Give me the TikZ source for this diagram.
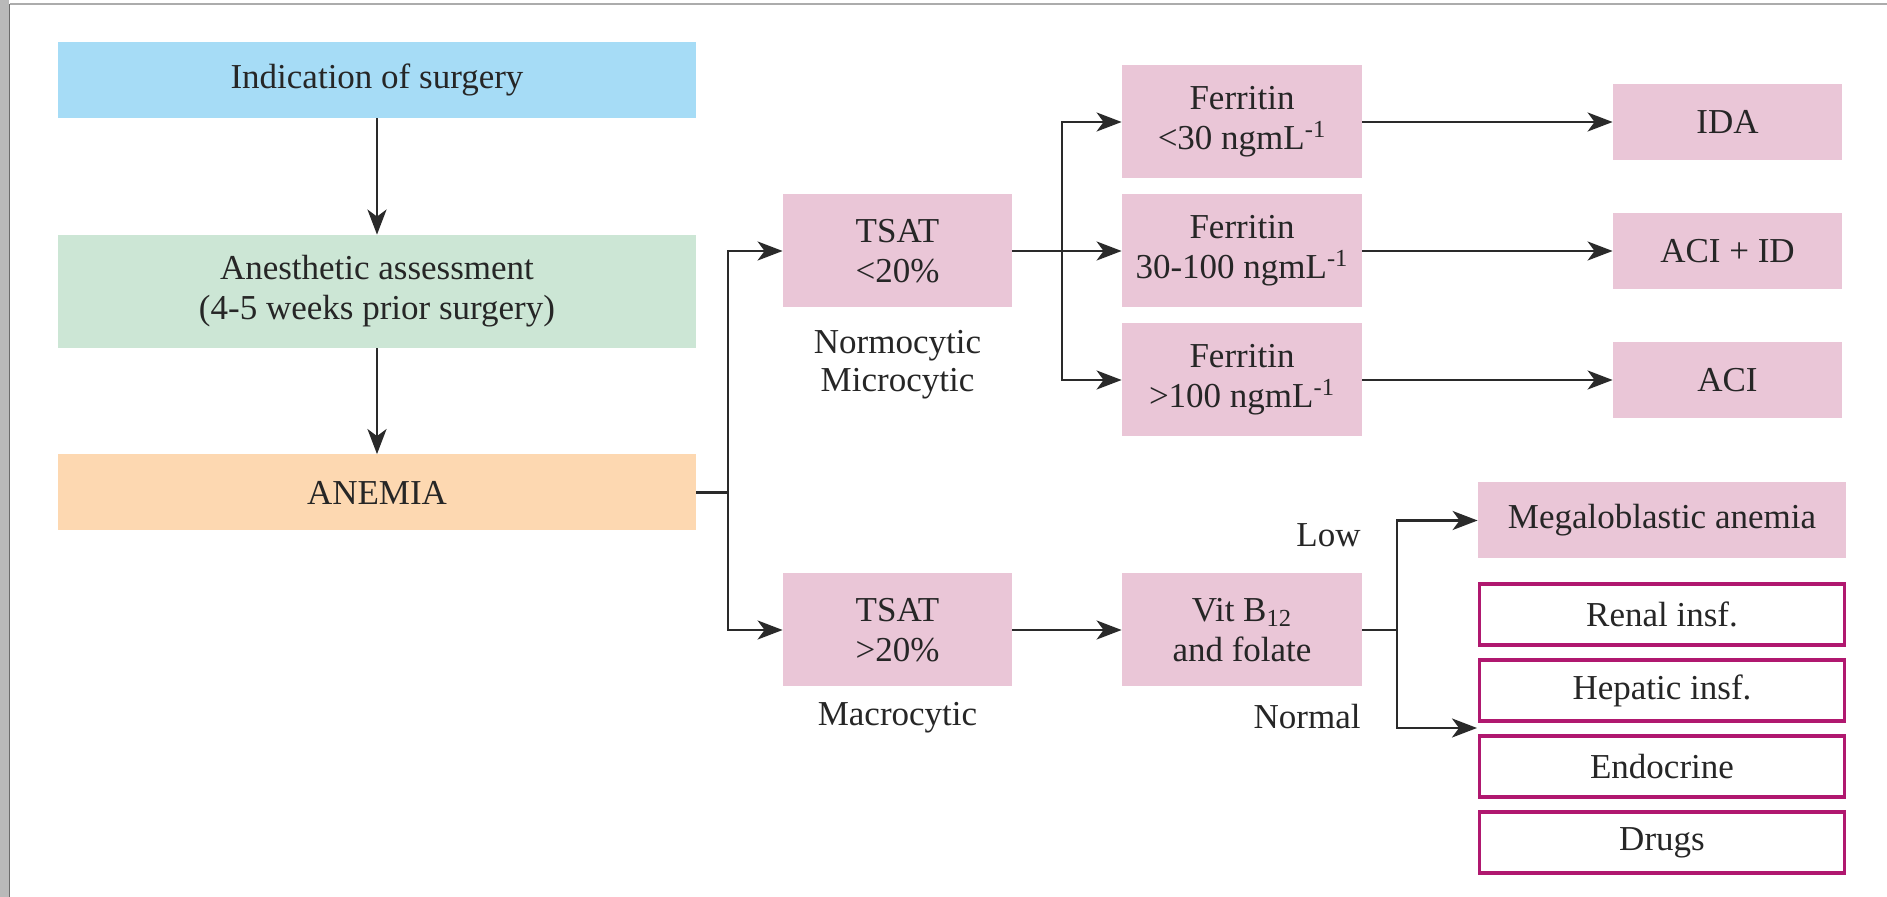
\documentclass[tikz,border=0pt]{standalone}
\usepackage{fontspec}
\setmainfont{Liberation Serif}
\usetikzlibrary{arrows.meta}

\definecolor{txt}{HTML}{262626}
\definecolor{lineclr}{HTML}{2A2A2A}
\definecolor{blueA}{HTML}{A6DCF6}
\definecolor{greenA}{HTML}{CCE6D5}
\definecolor{peachA}{HTML}{FDD8B1}
\definecolor{pinkA}{HTML}{EAC6D7}
\definecolor{magA}{HTML}{B0186F}

\tikzset{
  x=0.5pt, y=-0.5pt,
  box/.style={inner sep=0pt, align=center, text=txt,
              font=\fontsize{17.5}{20}\selectfont},
  lbl/.style={inner sep=0pt, align=center, text=txt,
              font=\fontsize{17.5}{19}\selectfont},
  pinkbox/.style={box, fill=pinkA},
  outbox/.style={box, draw=magA, line width=1.7pt, fill=white},
  wide/.style={minimum width=319pt},
  midw/.style={minimum width=114.5pt},
  ferw/.style={minimum width=120pt},
  resw/.style={minimum width=184pt},
  tallh/.style={minimum height=56.5pt},
  shorth/.style={minimum height=38pt},
  thinh/.style={minimum height=30.5pt},
  arr/.style={draw=lineclr, line width=1.3pt,
              -{Stealth[length=12.5pt, width=9.5pt, inset=3.5pt]}},
  ln/.style={draw=lineclr, line width=1.3pt},
}

\begin{document}
\begin{tikzpicture}
\useasboundingbox (0,0) rectangle (1887,897);
\fill[white] (0,0) rectangle (1887,897);

% page frame: grey left margin and thin top rule
\fill[gray!55] (0,0) rectangle (9,897);
\draw[gray!85!black, line width=0.7pt] (9.5,4) -- (9.5,897);
\draw[gray!65, line width=1pt] (9.5,4.5) -- (1887,4.5);

% left column
\node[box, wide, shorth, fill=blueA] (ind) at (377,80) {Indication of surgery};
\node[box, wide, tallh, fill=greenA] (anes) at (377,291.5)
  {Anesthetic assessment\\(4-5 weeks prior surgery)};
\node[box, wide, shorth, fill=peachA] (anemia) at (377,492.5) {ANEMIA};

% TSAT split
\node[pinkbox, midw, tallh] (tsat1) at (897.5,251) {TSAT\\<20\%};
\node[lbl] (normo) at (897.5,365) {Normocytic\\Microcytic};
\node[pinkbox, midw, tallh] (tsat2) at (897.5,630) {TSAT\\>20\%};
\node[lbl] (macro) at (897.5,718) {Macrocytic};

% ferritin levels
\node[pinkbox, ferw, tallh] (fer1) at (1242,122) {Ferritin\\<30 ngmL\textsuperscript{-1}};
\node[pinkbox, ferw, tallh] (fer2) at (1242,251) {Ferritin\\30-100 ngmL\textsuperscript{-1}};
\node[pinkbox, ferw, tallh] (fer3) at (1242,380) {Ferritin\\>100 ngmL\textsuperscript{-1}};

% diagnoses
\node[pinkbox, midw, shorth] (ida)   at (1727.5,122) {IDA};
\node[pinkbox, midw, shorth] (aciid) at (1727.5,251) {ACI + ID};
\node[pinkbox, midw, shorth] (aci)   at (1727.5,380) {ACI};

% vitamin branch
\node[pinkbox, ferw, tallh] (vit) at (1242,630) {Vit B\textsubscript{12}\\and folate};
\node[lbl, anchor=east] (low) at (1361,535) {Low};
\node[lbl, anchor=east] (normal) at (1361,717) {Normal};
\node[pinkbox, resw, shorth] (mega) at (1662,520.5) {Megaloblastic anemia};
\node[outbox, minimum width=182.5pt, thinh] (renal)   at (1662,614.5) {Renal insf.};
\node[outbox, minimum width=182.5pt, thinh] (hepatic) at (1662,690.5) {Hepatic insf.};
\node[outbox, minimum width=182.5pt, thinh] (endo)    at (1662,766.5) {Endocrine};
\node[outbox, minimum width=182.5pt, thinh] (drugs)   at (1662,842.5) {Drugs};

% junction points
\coordinate (j1) at (728,492.5);
\coordinate (j2) at (1062,251);
\coordinate (j3) at (1397,630);
\coordinate (grp) at (1477,728);

% connectors
\draw[arr] (ind) -- (anes);
\draw[arr] (anes) -- (anemia);
\draw[ln] (anemia.east) -- (j1);
\draw[arr] (j1) |- (tsat1.west);
\draw[arr] (j1) |- (tsat2.west);

\draw[arr] (tsat1.east) -- (fer2.west);
\draw[arr] (j2) |- (fer1.west);
\draw[arr] (j2) |- (fer3.west);

\draw[arr] (fer1.east) -- (ida.west);
\draw[arr] (fer2.east) -- (aciid.west);
\draw[arr] (fer3.east) -- (aci.west);

\draw[arr] (tsat2.east) -- (vit.west);
\draw[ln] (vit.east) -- (j3);
\draw[arr] (j3) |- (mega.west);
\draw[arr] (j3) |- (grp);
\end{tikzpicture}
\end{document}
